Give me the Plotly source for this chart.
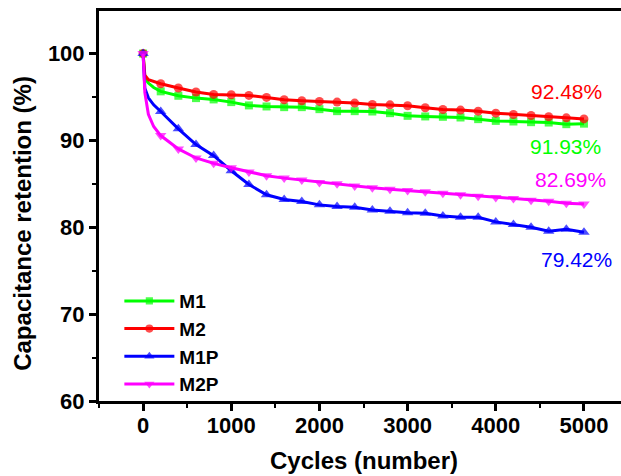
import plotly.graph_objects as go

cycles = [0, 20, 60, 120, 200, 400, 600, 800, 1000, 1200, 1400, 1600, 1800, 2000,
          2200, 2400, 2600, 2800, 3000, 3200, 3400, 3600, 3800, 4000, 4200,
          4400, 4600, 4800, 5000]

m1 = [100, 97.2, 96.6, 96.1, 95.65, 95.14, 94.87, 94.72, 94.41, 94.03, 93.91, 93.83,
      93.83, 93.60, 93.37, 93.37, 93.33, 93.14, 92.83, 92.76, 92.72, 92.64,
      92.45, 92.25, 92.18, 92.10, 92.06, 91.87, 91.93]
m2 = [100, 97.5, 97.0, 96.8, 96.53, 96.03, 95.57, 95.30, 95.26, 95.18, 94.95, 94.68,
      94.57, 94.49, 94.41, 94.30, 94.14, 94.10, 93.99, 93.76, 93.56, 93.49,
      93.37, 93.14, 92.99, 92.87, 92.72, 92.60, 92.48]
m1p = [100, 96.0, 94.9, 94.1, 93.33, 91.33, 89.52, 88.25, 86.51, 84.93, 83.74, 83.20,
       82.97, 82.58, 82.39, 82.31, 82.00, 81.85, 81.66, 81.62, 81.31, 81.16,
       81.16, 80.62, 80.31, 80.00, 79.54, 79.77, 79.42]
m2p = [100, 95.5, 93.0, 91.6, 90.56, 89.02, 87.98, 87.36, 86.86, 86.36, 85.93, 85.66,
       85.43, 85.16, 85.01, 84.74, 84.55, 84.39, 84.24, 84.08, 83.93, 83.74,
       83.58, 83.43, 83.31, 83.12, 83.01, 82.77, 82.69]

names = ["M1", "M2", "M1P", "M2P"]
series = [m1, m2, m1p, m2p]
colors = ["#00FF00", "#FF0000", "#0000FF", "#FF00FF"]
symbols = ["square", "circle", "triangle-up", "triangle-down"]
msizes = [8, 9, 10, 10]

labels = ["91.93%", "92.48%", "79.42%", "82.69%"]
label_x = [4796, 4807, 4910, 4852]
label_y = [89.30, 95.63, 76.3, 85.5]

FONT = "Arial, Liberation Sans, sans-serif"

fig = go.Figure()
for n, s, c, sym, ms in zip(names, series, colors, symbols, msizes):
    sizes = [ms if cy % 200 == 0 else 0 for cy in cycles]
    fig.add_trace(go.Scatter(
        x=cycles, y=s, name=n, mode="lines+markers",
        line=dict(color=c, width=3),
        marker=dict(symbol=sym, size=sizes, color=c, line=dict(width=0)),
    ))

for t, xx, yy, c in zip(labels, label_x, label_y, colors):
    fig.add_annotation(x=xx, y=yy, xref="x", yref="y", text=t, showarrow=False,
                       font=dict(family=FONT, size=21, color=c),
                       xanchor="center", yanchor="middle")

fig.add_annotation(x=2500, y=0, xref="x", yref="paper", yshift=-59,
                   text="Cycles (number)", showarrow=False,
                   font=dict(family=FONT, size=24, color="black", weight="bold"),
                   xanchor="center", yanchor="middle")
fig.add_annotation(x=0, y=80.4, xref="paper", yref="y", xshift=-76,
                   text="Capacitance retention (%)", showarrow=False, textangle=-90,
                   font=dict(family=FONT, size=24, color="black", weight="bold"),
                   xanchor="center", yanchor="middle")

fig.update_layout(
    width=621, height=476,
    margin=dict(l=99, r=0, t=11, b=75),
    paper_bgcolor="white", plot_bgcolor="white",
    showlegend=True,
    legend=dict(x=0.039, y=0.305, xanchor="left", yanchor="top",
                bgcolor="rgba(0,0,0,0)", borderwidth=0,
                font=dict(family=FONT, size=19, color="black", weight="bold"),
                itemwidth=50, tracegroupgap=0),
)
fig.update_xaxes(
    range=[-500, 5420], showgrid=False, zeroline=False,
    showline=True, linecolor="black", linewidth=3, mirror=True,
    ticks="outside", ticklen=7, tickwidth=2.5, tickcolor="black",
    tick0=0, dtick=1000, ticklabelstandoff=-4,
    tickfont=dict(family=FONT, size=22, color="black", weight="bold"),
    minor=dict(ticks="outside", ticklen=4, tickwidth=2, tickcolor="black", dtick=500, tick0=0),
)
fig.update_yaxes(
    range=[60, 104.9], showgrid=False, zeroline=False,
    showline=True, linecolor="black", linewidth=3, mirror=False,
    ticks="outside", ticklen=7, tickwidth=2.5, tickcolor="black",
    tick0=60, dtick=10,
    tickfont=dict(family=FONT, size=22, color="black", weight="bold"),
    minor=dict(ticks="outside", ticklen=4, tickwidth=2, tickcolor="black", dtick=5, tick0=60),
)

fig.write_html("out.html")
